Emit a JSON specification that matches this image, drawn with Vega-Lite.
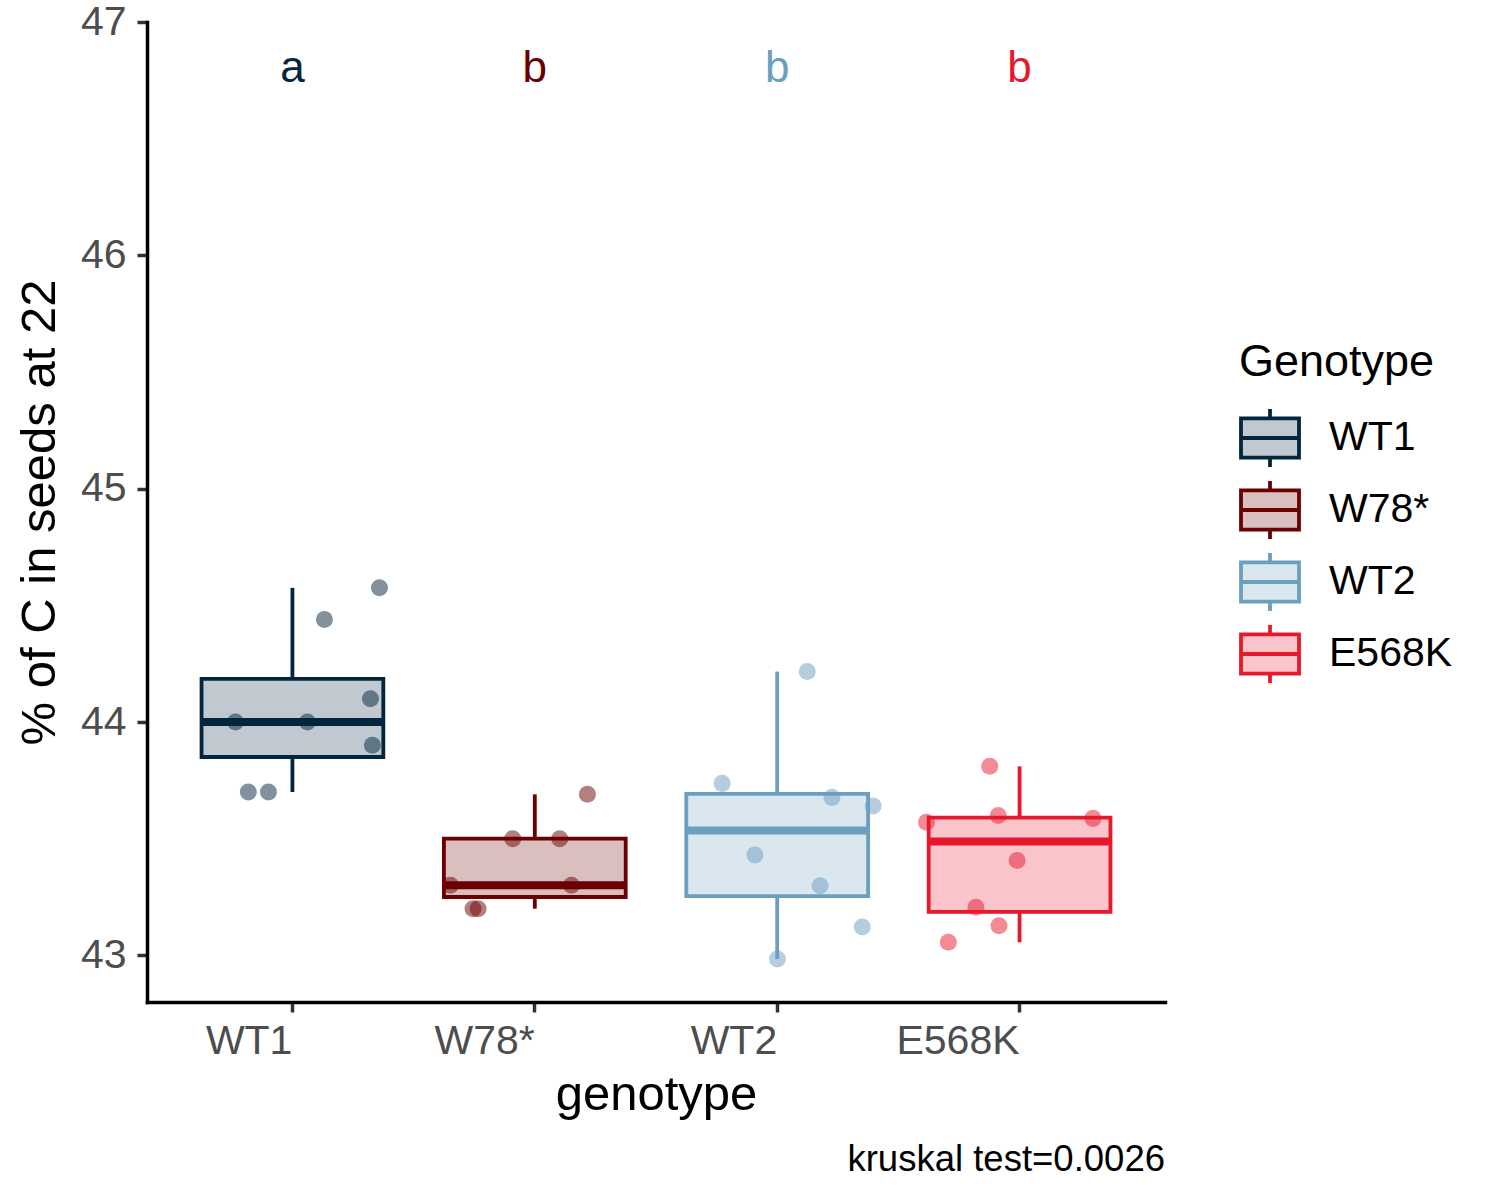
{
  "$schema": "https://vega.github.io/schema/vega-lite/v6.json",
  "width": 1018,
  "height": 980,
  "autosize": {"type": "none"},
  "padding": {"left": 147, "top": 22, "right": 335, "bottom": 198},
  "background": "white",
  "config": {
    "font": "Liberation Sans",
    "view": {"stroke": null},
    "axis": {
      "domainColor": "black",
      "domainWidth": 3.5,
      "domainCap": "square",
      "tickColor": "#333333",
      "tickWidth": 3.5,
      "tickSize": 10,
      "labelColor": "#4D4D4D",
      "labelFontSize": 41,
      "titleFontSize": 49,
      "titleFontWeight": "normal",
      "titleColor": "black",
      "grid": false
    },
    "axisX": {"labelAlign": "right", "labelAngle": 0, "labelPadding": 9, "titlePadding": 9},
    "axisY": {"labelPadding": 11, "titlePadding": 16},
    "legend": {
      "padding": 0,
      "titleFontSize": 45,
      "titleFontWeight": "normal",
      "titleColor": "black",
      "titlePadding": 22,
      "titleLimit": 500,
      "labelLimit": 500,
      "labelFontSize": 41,
      "labelColor": "black",
      "labelOffset": 28,
      "rowPadding": -2,
      "symbolType": "M-1,-0.68H1V0.68H-1Z M-1,0H1 M0,-1V-0.68 M0,0.68V1",
      "symbolSize": 3364,
      "symbolStrokeWidth": 3.8
    }
  },
  "resolve": {"scale": {"xOffset": "independent"}},
  "title": {
    "text": "kruskal test=0.0026",
    "orient": "bottom",
    "anchor": "end",
    "frame": "group",
    "fontSize": 36.5,
    "fontWeight": "normal",
    "color": "black",
    "offset": 23
  },
  "datasets": {
    "pts": [
      {"genotype": "WT1", "value": 44.575, "jitter": 0.359},
      {"genotype": "WT1", "value": 44.439, "jitter": 0.132},
      {"genotype": "WT1", "value": 44.10, "jitter": 0.322},
      {"genotype": "WT1", "value": 43.90, "jitter": 0.330},
      {"genotype": "WT1", "value": 44.00, "jitter": -0.235},
      {"genotype": "WT1", "value": 44.00, "jitter": 0.062},
      {"genotype": "WT1", "value": 43.70, "jitter": -0.182},
      {"genotype": "WT1", "value": 43.70, "jitter": -0.099},
      {"genotype": "W78*", "value": 43.69, "jitter": 0.217},
      {"genotype": "W78*", "value": 43.50, "jitter": -0.091},
      {"genotype": "W78*", "value": 43.50, "jitter": 0.103},
      {"genotype": "W78*", "value": 43.30, "jitter": -0.348},
      {"genotype": "W78*", "value": 43.30, "jitter": 0.151},
      {"genotype": "W78*", "value": 43.20, "jitter": -0.255},
      {"genotype": "W78*", "value": 43.20, "jitter": -0.234},
      {"genotype": "WT2", "value": 44.216, "jitter": 0.124},
      {"genotype": "WT2", "value": 43.737, "jitter": -0.227},
      {"genotype": "WT2", "value": 43.677, "jitter": 0.226},
      {"genotype": "WT2", "value": 43.640, "jitter": 0.396},
      {"genotype": "WT2", "value": 43.430, "jitter": -0.092},
      {"genotype": "WT2", "value": 43.298, "jitter": 0.177},
      {"genotype": "WT2", "value": 43.121, "jitter": 0.351},
      {"genotype": "WT2", "value": 42.984, "jitter": 0.001},
      {"genotype": "E568K", "value": 43.810, "jitter": -0.123},
      {"genotype": "E568K", "value": 43.599, "jitter": -0.088},
      {"genotype": "E568K", "value": 43.570, "jitter": -0.384},
      {"genotype": "E568K", "value": 43.587, "jitter": 0.303},
      {"genotype": "E568K", "value": 43.406, "jitter": -0.010},
      {"genotype": "E568K", "value": 43.206, "jitter": -0.180},
      {"genotype": "E568K", "value": 43.127, "jitter": -0.085},
      {"genotype": "E568K", "value": 43.056, "jitter": -0.294}
    ],
    "labels": [
      {"genotype": "WT1", "label": "a", "ypos": 46.8},
      {"genotype": "W78*", "label": "b", "ypos": 46.8},
      {"genotype": "WT2", "label": "b", "ypos": 46.8},
      {"genotype": "E568K", "label": "b", "ypos": 46.8}
    ]
  },
  "layer": [
    {
      "data": {"name": "pts"},
      "transform": [
        {
          "aggregate": [
            {"op": "q1", "field": "value", "as": "q1"},
            {"op": "q3", "field": "value", "as": "q3"},
            {"op": "median", "field": "value", "as": "med"},
            {"op": "min", "field": "value", "as": "lo"},
            {"op": "max", "field": "value", "as": "hi"}
          ],
          "groupby": ["genotype"]
        }
      ],
      "layer": [
        {
          "mark": {"type": "rule", "strokeWidth": 3.8},
          "encoding": {
            "x": {"field": "genotype", "type": "nominal", "sort": ["WT1", "W78*", "WT2", "E568K"], "scale": {"type": "band", "paddingInner": 0, "paddingOuter": 0.1}, "title": "genotype"},
            "y": {"field": "lo", "type": "quantitative", "scale": {"domain": [42.8, 47], "nice": false, "zero": false}, "axis": {"values": [43, 44, 45, 46, 47], "format": "d"}, "title": "% of C in seeds at 22"},
            "y2": {"field": "q1"},
            "stroke": {"field": "genotype", "type": "nominal", "sort": ["WT1", "W78*", "WT2", "E568K"], "scale": {"domain": ["WT1", "W78*", "WT2", "E568K"], "range": ["#03263E", "#6B0000", "#6C9EC0", "#E8182C"]}, "title": "Genotype"}
          }
        },
        {
          "mark": {"type": "rule", "strokeWidth": 3.8},
          "encoding": {
            "x": {"field": "genotype", "type": "nominal", "sort": ["WT1", "W78*", "WT2", "E568K"], "title": "genotype"},
            "y": {"field": "q3", "type": "quantitative", "title": "% of C in seeds at 22"},
            "y2": {"field": "hi"},
            "stroke": {"field": "genotype", "type": "nominal", "sort": ["WT1", "W78*", "WT2", "E568K"], "title": "Genotype"}
          }
        },
        {
          "mark": {"type": "bar", "fillOpacity": 0.25, "strokeWidth": 3.8, "width": {"band": 0.75}},
          "encoding": {
            "x": {"field": "genotype", "type": "nominal", "sort": ["WT1", "W78*", "WT2", "E568K"], "title": "genotype"},
            "y": {"field": "q1", "type": "quantitative", "title": "% of C in seeds at 22"},
            "y2": {"field": "q3"},
            "fill": {
              "field": "genotype", "type": "nominal", "sort": ["WT1", "W78*", "WT2", "E568K"],
              "scale": {"domain": ["WT1", "W78*", "WT2", "E568K"], "range": ["#03263E", "#6B0000", "#6C9EC0", "#E8182C"]},
              "title": "Genotype",
              "legend": {
                "orient": "none",
                "legendX": 1092,
                "legendY": 318,
                "encode": {
                  "symbols": {
                    "update": {
                      "opacity": {"value": 1},
                      "fillOpacity": {"value": 0.25},
                      "strokeWidth": {"value": 3.8}
                    }
                  }
                }
              }
            },
            "stroke": {"field": "genotype", "type": "nominal", "sort": ["WT1", "W78*", "WT2", "E568K"], "title": "Genotype"}
          }
        },
        {
          "mark": {"type": "tick", "thickness": 8, "size": 182, "opacity": 1},
          "encoding": {
            "x": {"field": "genotype", "type": "nominal", "sort": ["WT1", "W78*", "WT2", "E568K"], "title": "genotype"},
            "y": {"field": "med", "type": "quantitative", "title": "% of C in seeds at 22"},
            "fill": {"field": "genotype", "type": "nominal", "sort": ["WT1", "W78*", "WT2", "E568K"], "title": "Genotype"}
          }
        }
      ]
    },
    {
      "data": {"name": "pts"},
      "mark": {"type": "circle", "size": 290, "opacity": 0.5},
      "encoding": {
        "x": {"field": "genotype", "type": "nominal", "sort": ["WT1", "W78*", "WT2", "E568K"], "title": "genotype"},
        "xOffset": {"field": "jitter", "type": "quantitative", "scale": {"domain": [-0.5, 0.5]}},
        "y": {"field": "value", "type": "quantitative", "title": "% of C in seeds at 22"},
        "fill": {"field": "genotype", "type": "nominal", "sort": ["WT1", "W78*", "WT2", "E568K"], "title": "Genotype"}
      }
    },
    {
      "data": {"name": "labels"},
      "mark": {"type": "text", "fontSize": 44, "baseline": "middle", "align": "center"},
      "encoding": {
        "x": {"field": "genotype", "type": "nominal", "sort": ["WT1", "W78*", "WT2", "E568K"], "title": "genotype"},
        "y": {"field": "ypos", "type": "quantitative", "title": "% of C in seeds at 22"},
        "text": {"field": "label"},
        "fill": {"field": "genotype", "type": "nominal", "sort": ["WT1", "W78*", "WT2", "E568K"], "title": "Genotype"}
      }
    }
  ]
}
